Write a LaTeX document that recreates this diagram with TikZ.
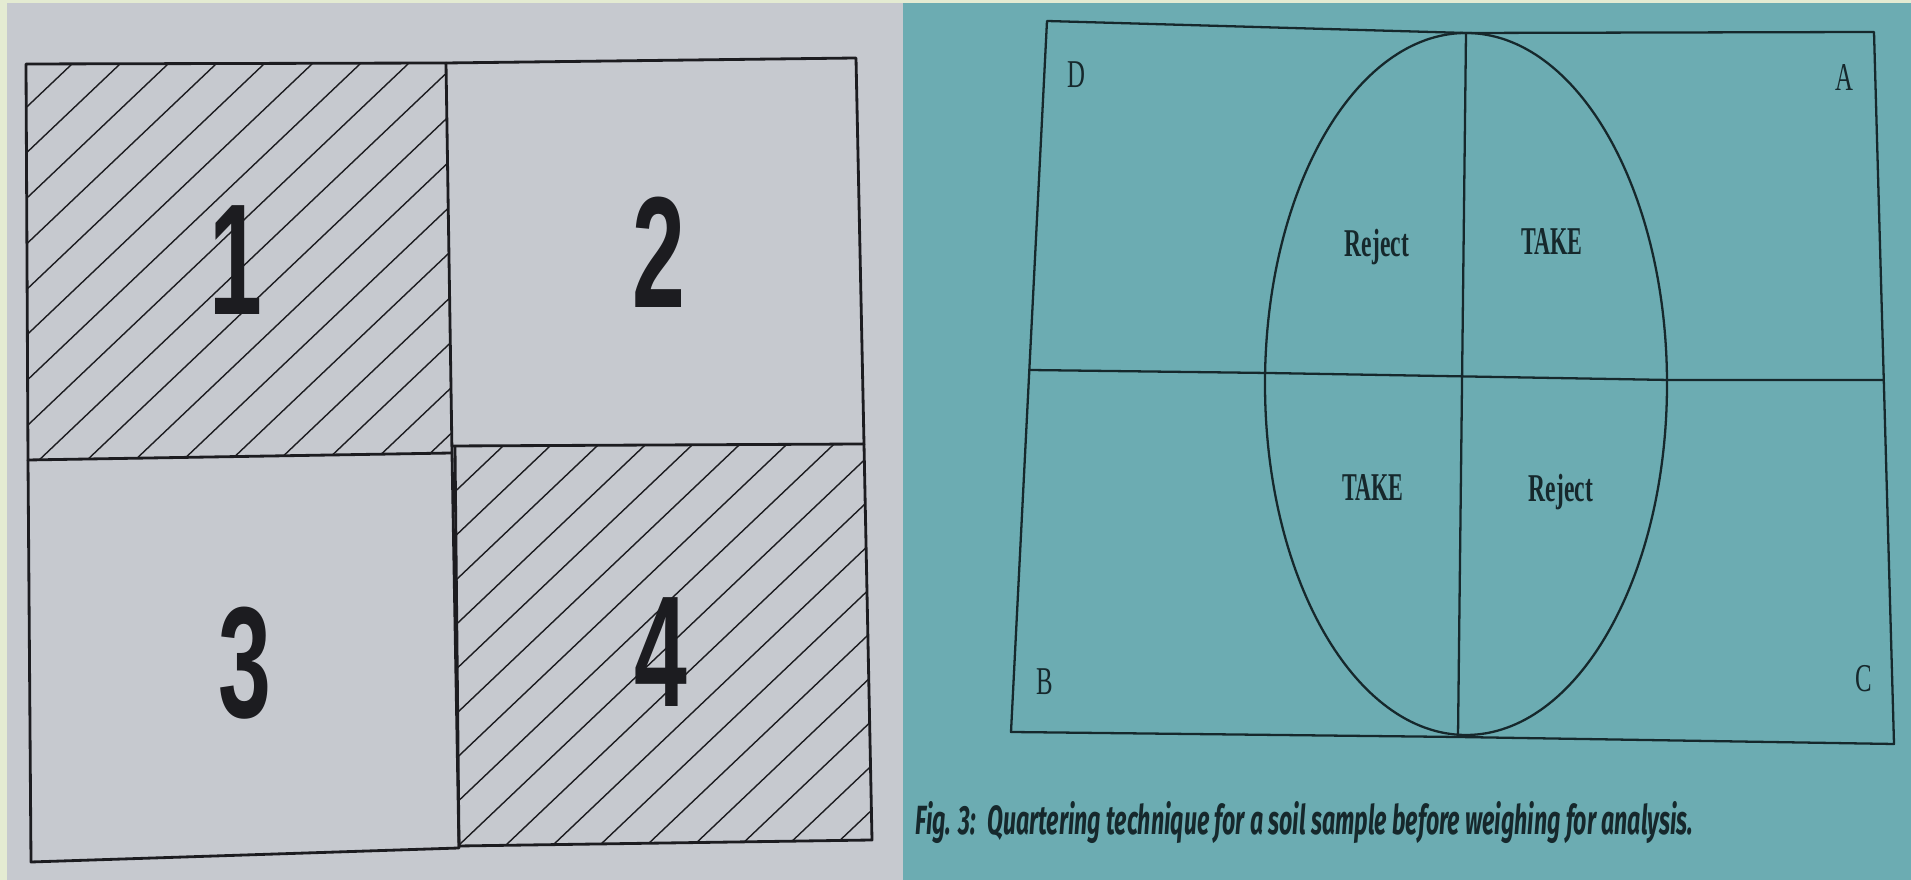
\documentclass[tikz,border=0pt]{standalone}
\usepackage{fontspec}
\usepackage{graphicx}
\setmainfont{Liberation Serif}
\newfontfamily\digitfont{Liberation Sans}
\newfontfamily\capfont{Fira Sans}
\definecolor{paleC}{RGB}{228,235,210}
\definecolor{greyC}{RGB}{198,201,207}
\definecolor{tealC}{RGB}{108,172,178}
\definecolor{inkL}{RGB}{28,28,32}
\definecolor{inkR}{RGB}{22,40,44}
\begin{document}
\begin{tikzpicture}[x=0.01cm,y=-0.01cm,
  frame/.style={line width=0.8pt, draw=inkL, line join=round},
  hatchline/.style={line width=0.4pt, draw=inkL},
  rframe/.style={line width=0.65pt, draw=inkR, line join=round},
  digit/.style={anchor=base, inner sep=0pt, text=inkL, font=\digitfont\bfseries\fontsize{45}{45}\selectfont},
  corner/.style={anchor=base, inner sep=0pt, text=inkR, font=\fontsize{11.2}{13}\selectfont},
  word/.style={anchor=base, inner sep=0pt, text=inkR, font=\bfseries\fontsize{11.2}{13}\selectfont},
  captext/.style={anchor=base west, inner sep=0pt, text=inkR, font=\capfont\bfseries\itshape\fontsize{11.6}{13}\selectfont}
]
\useasboundingbox (0,0) rectangle (1911,880);
% backgrounds
\fill[paleC] (0,0) rectangle (1911,880);
\fill[greyC] (7,3) rectangle (903,880);
\fill[tealC] (903,3) rectangle (1911,880);

% ---------------- left figure ----------------
% hatching of quarter 1
\begin{scope}
  \clip (26,64) -- (446,63) -- (452,453) -- (28,460) -- cycle;
  \foreach \k in {-2,...,18}
    \draw[hatchline] ({72+48*\k-450},{64+0.95*450}) -- ({72+48*\k+450},{64-0.95*450});
\end{scope}
% hatching of quarter 4
\begin{scope}
  \clip (455,447) -- (864,444) -- (872,840) -- (459,846) -- cycle;
  \foreach \k in {-2,...,18}
    \draw[hatchline] ({502+47*\k-450},{447+0.95*450}) -- ({502+47*\k+450},{447-0.95*450});
\end{scope}
% frames of the four quarters
\draw[frame] (26,64) -- (446,63) -- (452,453) -- (28,460) -- cycle;
\draw[frame] (446,63) -- (856,58) -- (864,444) -- (452,446);
\draw[frame] (28,460) -- (31,862) -- (459,848) -- (452,453);
\draw[frame] (455,447) -- (459,846) -- (872,840) -- (864,444);

\node[digit] (n1) at (236,315) {\scalebox{0.6}[1]{1}};
\node[digit] (n2) at (659,308) {\scalebox{0.6}[1]{2}};
\node[digit] (n3) at (245,718) {\scalebox{0.6}[1]{3}};
\node[digit] (n4) at (661,707) {\scalebox{0.6}[1]{4}};

% ---------------- right figure ----------------
\draw[rframe] (1047,21) -- (1466,33) -- (1874,32) -- (1894,744) -- (1458,737) -- (1011,732) -- cycle;
\draw[rframe] (1029,370) -- (1268,373) -- (1669,380) -- (1883,380);
\draw[rframe] (1466,33) -- (1458,737);
\draw[rframe] (1466,384) ellipse [x radius=201, y radius=351];

\node[corner] (D) at (1076,88) {\scalebox{0.63}[1]{D}};
\node[corner] (A) at (1844,91) {\scalebox{0.63}[1]{A}};
\node[corner] (B) at (1045,695) {\scalebox{0.63}[1]{B}};
\node[corner] (C) at (1864,692) {\scalebox{0.63}[1]{C}};

\node[word] (rej1) at (1377,257) {\resizebox{0.64cm}{\height}{Reject}};
\node[word] (take1) at (1552,255) {\resizebox{0.61cm}{\height}{TAKE}};
\node[word] (take2) at (1373,501) {\resizebox{0.61cm}{\height}{TAKE}};
\node[word] (rej2) at (1561,502) {\resizebox{0.64cm}{\height}{Reject}};

\node[captext] (cap) at (915,835) {\resizebox{7.77cm}{\height}{Fig. 3:\enspace Quartering technique for a soil sample before weighing for analysis.}};
\end{tikzpicture}
\end{document}
